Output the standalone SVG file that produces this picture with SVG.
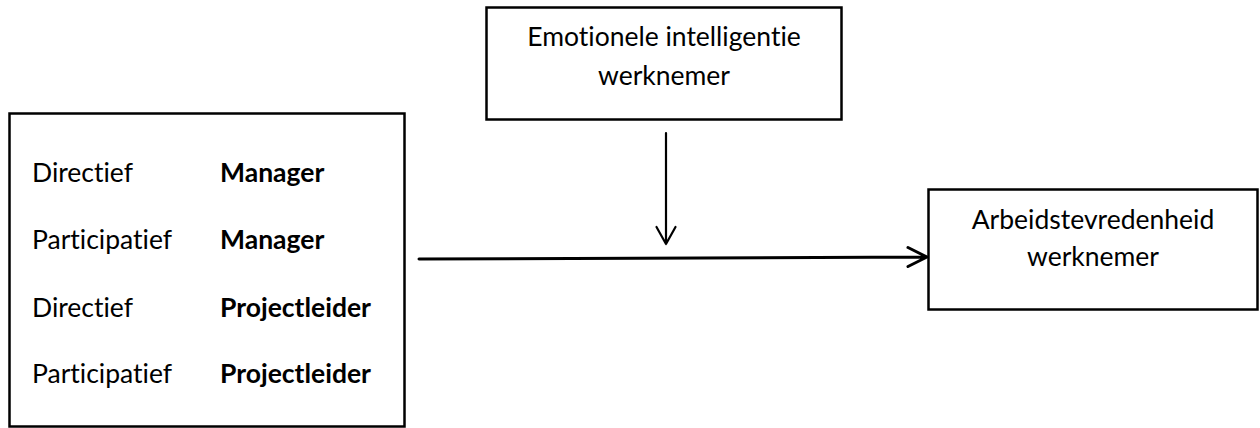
<svg xmlns="http://www.w3.org/2000/svg" width="1260" height="428" viewBox="0 0 1260 428">
<style>
.box{fill:#fff;stroke:#000;stroke-width:2.5}
.t{font-family:Lato,"Open Sans","Liberation Sans",sans-serif;font-size:26.5px;fill:#000;font-variant-ligatures:none;font-feature-settings:"liga" 0}
.b{font-weight:bold}
.c{text-anchor:middle}
.ln{fill:none;stroke:#000;stroke-linecap:round;stroke-linejoin:round}
</style>
<rect width="1260" height="428" fill="#fff"/>
<g id="styles">
<rect class="box" x="9.5" y="113.5" width="395" height="313"/>
<text class="t" x="32" y="182">Directief</text>
<text class="t b" x="220" y="182">Manager</text>
<text class="t" x="32" y="249">Participatief</text>
<text class="t b" x="220" y="249">Manager</text>
<text class="t" x="32" y="317">Directief</text>
<text class="t b" x="220" y="317">Projectleider</text>
<text class="t" x="32" y="383">Participatief</text>
<text class="t b" x="220" y="383">Projectleider</text>
</g>
<g id="ei">
<rect class="box" x="486.5" y="7.5" width="355" height="112"/>
<text class="t c" x="664" y="46">Emotionele intelligentie</text>
<text class="t c" x="664" y="85">werknemer</text>
</g>
<g id="av">
<rect class="box" x="928.5" y="189.5" width="329" height="120"/>
<text class="t c" x="1093" y="229">Arbeidstevredenheid</text>
<text class="t c" x="1093" y="266">werknemer</text>
</g>
<g id="connectors">
<path class="ln" stroke-width="2.2" d="M666 133 V244 M656.5 227 L666 244 L675.5 227"/>
<path class="ln" stroke-width="3" d="M419 259 L927 257 M908 247.5 L927 257 L908 266.5"/>
</g>
</svg>
